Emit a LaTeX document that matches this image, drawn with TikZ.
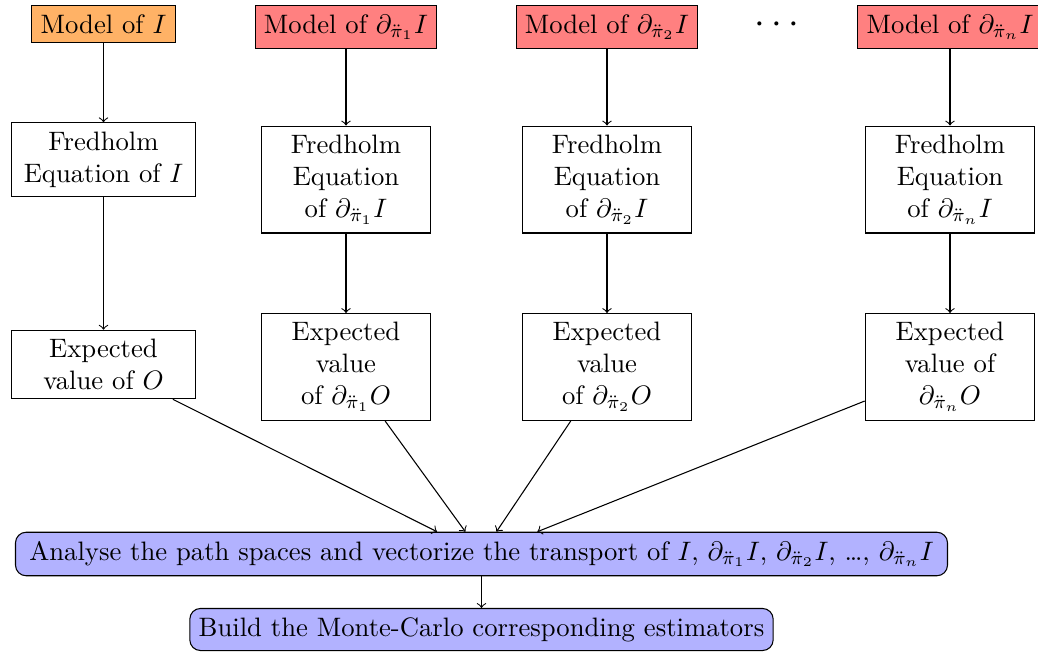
\documentclass[tikz,border=0pt]{standalone}
\usepackage{amsmath}
\begin{document}
\begin{tikzpicture}[x=0.375pt,y=-0.375pt,
  box/.style={draw,align=center},
  topbox/.style={draw,anchor=base},
  orangebox/.style={topbox,fill=orange!60},
  redbox/.style={topbox,fill=red!50},
  wide/.style={box,text width=2.2cm},
  narrow/.style={box,text width=2cm},
  bluebox/.style={draw,rounded corners,fill=blue!30},
  arr/.style={->}]
\useasboundingbox (0,0) rectangle (1038,652);
% top row
\node[orangebox] (m0) at (103.5,33) {Model of $I$};
\node[redbox] (m1) at (346,33) {Model of $\partial_{\ddot{\pi}_1}I$};
\node[redbox] (m2) at (607,33) {Model of $\partial_{\ddot{\pi}_2}I$};
\node[inner sep=0pt] (dots) at (780,25) {\Large$\cdots$};
\node[redbox] (m3) at (950,33) {Model of $\partial_{\ddot{\pi}_n}I$};
% Fredholm
\node[wide] (f0) at (103.5,159.5) {Fredholm\\Equation of $I$};
\node[narrow] (f1) at (346,179.5) {Fredholm\\Equation\\of $\partial_{\ddot{\pi}_1}I$};
\node[narrow] (f2) at (607,179.5) {Fredholm\\Equation\\of $\partial_{\ddot{\pi}_2}I$};
\node[narrow] (f3) at (950,179.5) {Fredholm\\Equation\\of $\partial_{\ddot{\pi}_n}I$};
% Expected
\node[wide] (e0) at (103.5,364.5) {Expected\\value of $O$};
\node[narrow] (e1) at (346,367) {Expected\\value\\of $\partial_{\ddot{\pi}_1}O$};
\node[narrow] (e2) at (607,367) {Expected\\value\\of $\partial_{\ddot{\pi}_2}O$};
\node[narrow] (e3) at (950,367) {Expected\\value of\\$\partial_{\ddot{\pi}_n}O$};
% bottom
\node[bluebox,inner xsep=5.2pt] (a) at (481.5,554) {Analyse the path spaces and vectorize the transport of $I$, $\partial_{\ddot{\pi}_1}I$, $\partial_{\ddot{\pi}_2}I$, \ldots, $\partial_{\ddot{\pi}_n}I$};
\node[bluebox] (b) at (481.5,629.5) {Build the Monte-Carlo corresponding estimators};
% arrows
\foreach \i in {0,1,2,3}{
  \draw[arr] (m\i) -- (f\i);
  \draw[arr] (f\i) -- (e\i);
  \draw[arr] (e\i) -- (a);
}
\draw[arr] (a) -- (b);
\end{tikzpicture}
\end{document}
